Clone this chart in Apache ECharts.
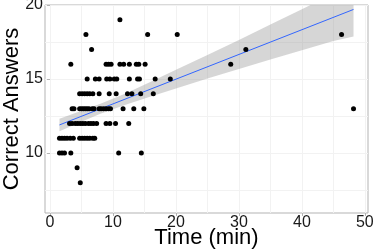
<!DOCTYPE html>
<html>
<head>
<meta charset="utf-8">
<script src="https://cdn.jsdelivr.net/npm/echarts@6/dist/echarts.min.js"></script>
<style>html,body{margin:0;padding:0;background:#fff}#c{width:374px;height:251px}</style>
</head>
<body>
<div id="c"></div>
<script>
// Scatter points: time (min) and correct answers
const timeMin = [
  11.1,
  5.7, 15.5, 20.2, 46.3,
  6.6, 31.1,
  3.3, 8.9, 9.3, 9.7, 11.1, 11.7, 12.6, 13.7, 14.1, 15.1, 28.7,
  5.9, 7.2, 7.8, 9.0, 9.5, 10.2, 10.6, 12.6, 13.9, 14.2, 16.7, 19.1,
  4.7, 5.1, 5.5, 5.9, 6.3, 6.8, 7.8, 9.4, 10.5, 12.3, 13.0, 14.4, 16.4,
  3.5, 3.8, 4.7, 5.0, 5.3, 5.6, 5.9, 6.2, 6.7, 7.0, 7.8, 8.1, 8.5, 8.9, 9.3, 9.6, 11.6, 13.3, 14.9, 48.2,
  3.1, 3.5, 4.0, 4.4, 4.8, 5.2, 5.6, 6.1, 6.5, 6.9, 7.4, 8.9, 9.5, 10.4, 12.5,
  1.5, 1.9, 2.3, 2.7, 3.2, 3.7, 4.7, 5.1, 5.5, 5.9, 6.3, 6.8, 7.1,
  1.5, 1.9, 2.3, 3.3, 10.9, 14.5,
  4.3,
  4.8
];
const correct = [
  19,
  18, 18, 18, 18,
  17, 17,
  16, 16, 16, 16, 16, 16, 16, 16, 16, 16, 16,
  15, 15, 15, 15, 15, 15, 15, 15, 15, 15, 15, 15,
  14, 14, 14, 14, 14, 14, 14, 14, 14, 14, 14, 14, 14,
  13, 13, 13, 13, 13, 13, 13, 13, 13, 13, 13, 13, 13, 13, 13, 13, 13, 13, 13, 13,
  12, 12, 12, 12, 12, 12, 12, 12, 12, 12, 12, 12, 12, 12, 12,
  11, 11, 11, 11, 11, 11, 11, 11, 11, 11, 11, 11, 11,
  10, 10, 10, 10, 10, 10,
  9,
  8
];
// Fitted line endpoints (read)
const fitX = [1.5, 48.2];
const fitY = [11.9, 19.7];
// Confidence band (read)
const bandX     = [1.5,   5,     8,     12,    16,    20,    25,    30,    35,    40,    45,    48.2];
const bandLower = [11.48, 12.12, 12.65, 13.27, 13.82, 14.36, 15.03, 15.68, 16.32, 16.95, 17.57, 17.87];
const bandUpper = [12.32, 12.86, 13.33, 14.03, 14.82, 15.62, 16.63, 17.64, 18.68, 19.71, 20.77, 21.53];
// Axis ticks
const xTicks = [0, 10, 20, 30, 40, 50];
const xGrid = [0, 5, 10, 15, 20, 25, 30, 35, 40, 45, 50];
const yTicks = [10, 15, 20];
const yGrid = [7.5, 10, 12.5, 15, 17.5, 20];

const pts = timeMin.map((t, i) => [t, correct[i]]);
const fitData = fitX.map((x, i) => [x, fitY[i]]);

const FONT = 'Liberation Sans, Arial, sans-serif';
const X_MIN = -0.8, X_MAX = 50.5, Y_MIN = 5.95, Y_MAX = 20;

const chart = echarts.init(document.getElementById('c'), null, {renderer: 'canvas'});
chart.setOption({
  animation: false,
  backgroundColor: '#fff',
  grid: {left: 45, right: 6, top: 5, bottom: 38, show: true, borderColor: '#b3b3b3', borderWidth: 1,
         backgroundColor: '#fff', containLabel: false, outerBoundsMode: 'none'},
  xAxis: [{
    type: 'value', min: X_MIN, max: X_MAX,
    name: 'Time (min)', nameLocation: 'middle', nameGap: 14, nameMoveOverlap: false,
    nameTextStyle: {fontFamily: FONT, fontSize: 22, color: '#000'},
    axisLine: {show: false},
    axisTick: {show: true, length: 3, lineStyle: {color: '#b3b3b3'}, customValues: xTicks},
    axisLabel: {customValues: xTicks, fontFamily: FONT, fontSize: 16, color: '#1a1a1a', margin: 2},
    splitLine: {show: false}
  }, {
    type: 'value', min: X_MIN, max: X_MAX, position: 'bottom',
    axisLine: {show: false},
    axisTick: {show: false, customValues: xGrid},
    axisLabel: {show: false},
    splitLine: {show: true, lineStyle: {color: '#f2f2f2', width: 1}}
  }],
  yAxis: [{
    type: 'value', min: Y_MIN, max: Y_MAX,
    name: 'Correct Answers', nameLocation: 'middle', nameGap: 22, nameMoveOverlap: false,
    nameTextStyle: {fontFamily: FONT, fontSize: 22, color: '#000'},
    axisLine: {show: false},
    axisTick: {show: true, length: 3, lineStyle: {color: '#b3b3b3'}, customValues: yTicks},
    axisLabel: {customValues: yTicks, fontFamily: FONT, fontSize: 16, color: '#1a1a1a', margin: 2},
    splitLine: {show: false}
  }, {
    type: 'value', min: Y_MIN, max: Y_MAX, position: 'left',
    axisLine: {show: false},
    axisTick: {show: false, customValues: yGrid},
    axisLabel: {show: false},
    splitLine: {show: true, lineStyle: {color: '#f2f2f2', width: 1}}
  }],
  series: [
    {
      type: 'custom', clip: true, silent: true, z: 1,
      data: [[bandX[0], bandLower[0]]],
      renderItem: function (params, api) {
        const poly = [];
        for (let i = 0; i < bandX.length; i++) poly.push(api.coord([bandX[i], bandUpper[i]]));
        for (let i = bandX.length - 1; i >= 0; i--) poly.push(api.coord([bandX[i], bandLower[i]]));
        return {type: 'polygon', shape: {points: poly}, style: {fill: 'rgba(153,153,153,0.4)'}};
      }
    },
    {type: 'line', data: fitData, symbol: 'none', lineStyle: {color: '#3366FF', width: 1}, z: 2},
    {type: 'scatter', data: pts, symbolSize: 5, itemStyle: {color: '#000', opacity: 1}, z: 3}
  ]
});
</script>
</body>
</html>
